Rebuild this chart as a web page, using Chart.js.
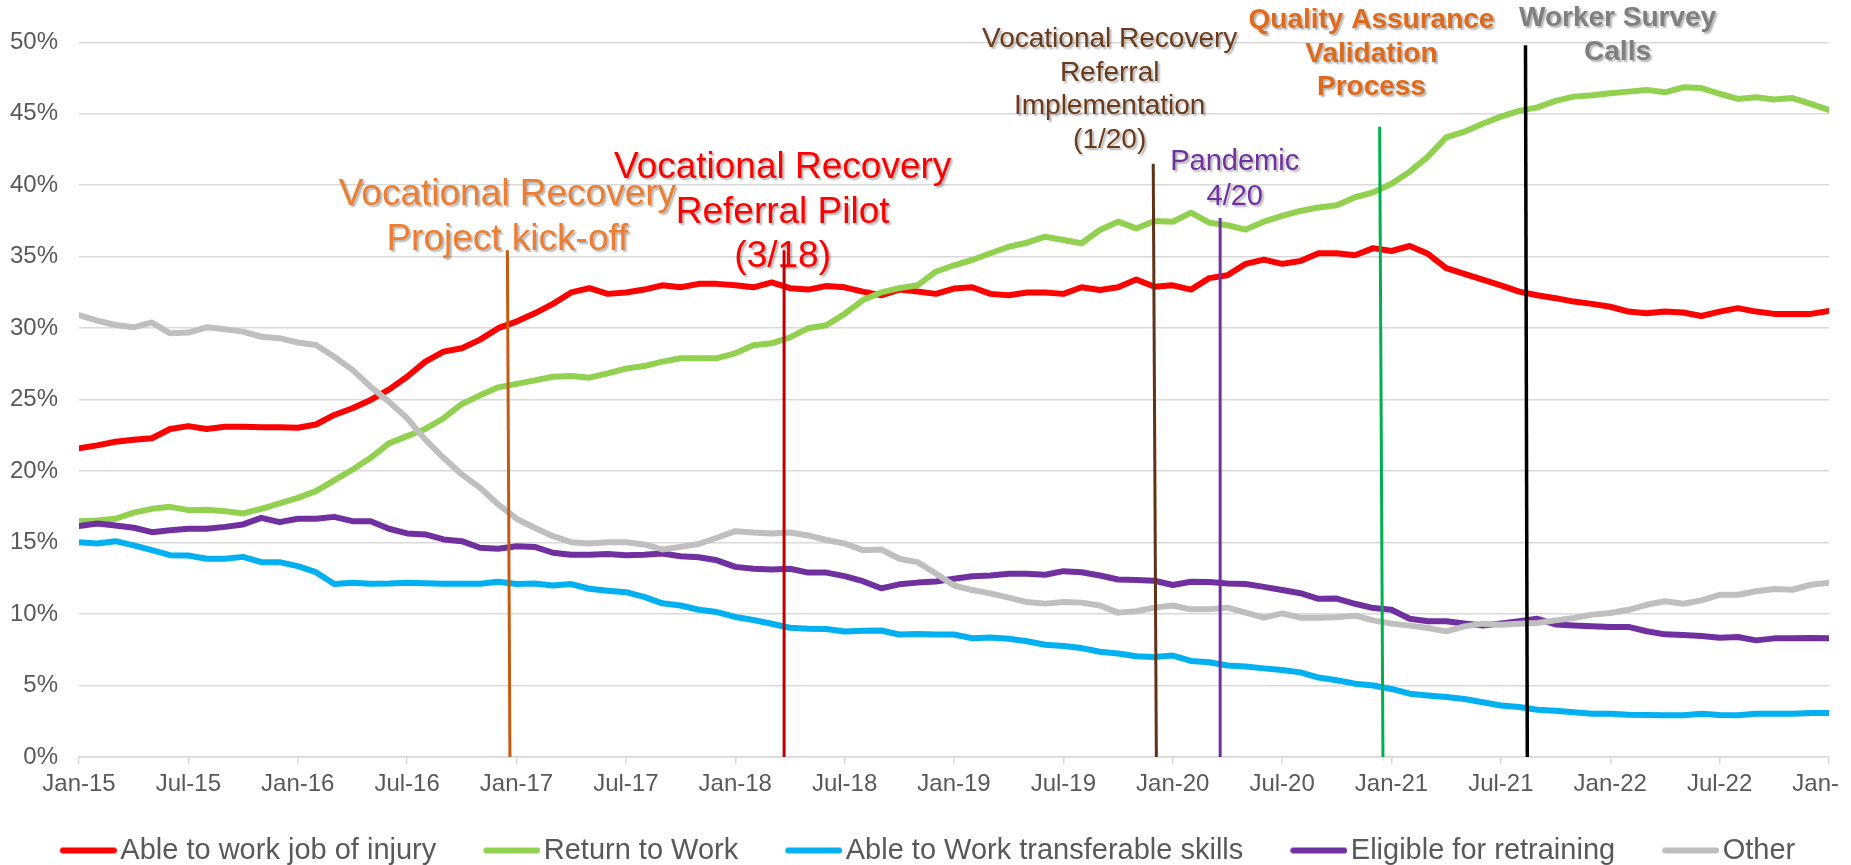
<!DOCTYPE html>
<html>
<head>
<meta charset="utf-8">
<script src="https://cdn.jsdelivr.net/npm/chart.js@4.4.1/dist/chart.umd.min.js"></script>
<style>
  html, body { margin: 0; padding: 0; background: #ffffff; }
  #wrap { width: 1838px; height: 865px; overflow: hidden; }
  canvas { display: block; }
</style>
</head>
<body>
<div id="wrap"><canvas id="chart" width="1851" height="875"></canvas></div>
<script>
// ---- Data (monthly, index 0 = Jan-15 ... 96 = Jan-23) ----
const tickLabels = ['Jan-15','Jul-15','Jan-16','Jul-16','Jan-17','Jul-17','Jan-18','Jul-18','Jan-19','Jul-19','Jan-20','Jul-20','Jan-21','Jul-21','Jan-22','Jul-22','Jan-23'];

const seriesNames = ['Able to work job of injury','Return to Work','Able to Work transferable skills','Eligible for retraining','Other'];

const ableJobOfInjury = [21.6,21.8,22.05,22.2,22.3,22.95,23.15,22.95,23.1,23.1,23.07,23.07,23.03,23.26,23.93,24.4,24.98,25.7,26.6,27.66,28.36,28.6,29.2,30.0,30.46,31.04,31.7,32.5,32.8,32.4,32.5,32.7,33.0,32.86,33.1,33.1,33.0,32.86,33.2,32.8,32.7,32.95,32.86,32.56,32.3,32.7,32.56,32.4,32.77,32.86,32.4,32.3,32.5,32.5,32.4,32.86,32.67,32.86,33.4,32.9,33.0,32.7,33.5,33.7,34.5,34.8,34.5,34.7,35.24,35.24,35.1,35.6,35.4,35.75,35.2,34.2,33.8,33.4,33.0,32.56,32.3,32.1,31.86,31.7,31.5,31.16,31.04,31.16,31.1,30.85,31.16,31.4,31.16,31.0,31.0,31.0,31.2];

const returnToWork = [16.5,16.55,16.67,17.1,17.36,17.5,17.27,17.3,17.2,17.04,17.36,17.74,18.13,18.6,19.35,20.1,20.93,21.94,22.45,22.95,23.7,24.7,25.3,25.86,26.1,26.35,26.6,26.65,26.54,26.84,27.17,27.35,27.66,27.9,27.9,27.9,28.24,28.8,28.94,29.36,30.0,30.2,31.0,31.97,32.5,32.8,33.0,33.95,34.4,34.77,35.24,35.7,35.98,36.4,36.17,35.94,36.87,37.45,36.98,37.5,37.45,38.08,37.38,37.2,36.9,37.45,37.85,38.2,38.45,38.6,39.16,39.5,40.1,40.95,42.0,43.35,43.75,44.3,44.8,45.2,45.45,45.9,46.2,46.3,46.43,46.55,46.67,46.5,46.85,46.8,46.4,46.04,46.15,46.0,46.1,45.7,45.27];

const transferableSkills = [15.03,14.94,15.1,14.8,14.47,14.12,14.1,13.87,13.87,14.0,13.63,13.63,13.35,12.93,12.1,12.19,12.12,12.14,12.19,12.16,12.12,12.12,12.12,12.26,12.1,12.14,12.0,12.1,11.77,11.63,11.53,11.2,10.75,10.6,10.3,10.14,9.8,9.58,9.32,9.04,8.97,8.95,8.78,8.83,8.85,8.57,8.6,8.57,8.57,8.31,8.36,8.27,8.1,7.85,7.76,7.62,7.36,7.24,7.05,7.0,7.1,6.72,6.63,6.4,6.33,6.2,6.08,5.92,5.56,5.37,5.13,5.0,4.76,4.43,4.31,4.2,4.06,3.83,3.6,3.5,3.31,3.24,3.13,3.03,3.03,2.96,2.94,2.92,2.92,3.03,2.94,2.92,3.03,3.03,3.03,3.08,3.08];

const eligibleRetraining = [16.15,16.34,16.2,16.04,15.73,15.87,15.97,15.97,16.1,16.27,16.73,16.43,16.67,16.67,16.8,16.5,16.5,15.97,15.64,15.57,15.22,15.1,14.64,14.57,14.75,14.7,14.29,14.15,14.15,14.2,14.12,14.15,14.24,14.05,13.98,13.76,13.3,13.17,13.12,13.17,12.9,12.9,12.65,12.3,11.8,12.08,12.2,12.28,12.47,12.65,12.7,12.82,12.82,12.75,13.0,12.93,12.7,12.42,12.38,12.33,12.03,12.26,12.24,12.14,12.1,11.9,11.68,11.46,11.07,11.08,10.72,10.42,10.3,9.67,9.5,9.5,9.34,9.2,9.34,9.5,9.67,9.27,9.2,9.15,9.1,9.1,8.8,8.58,8.53,8.46,8.35,8.4,8.16,8.3,8.3,8.32,8.3];

const other = [30.92,30.53,30.22,30.06,30.4,29.64,29.69,30.06,29.92,29.76,29.4,29.3,29.0,28.82,28.0,27.08,25.9,24.86,23.7,22.2,20.93,19.77,18.83,17.67,16.67,16.04,15.45,15.03,14.94,15.03,15.03,14.87,14.52,14.7,14.9,15.34,15.8,15.7,15.64,15.7,15.5,15.18,14.94,14.47,14.52,13.87,13.63,12.84,12.0,11.68,11.45,11.15,10.84,10.73,10.84,10.8,10.6,10.1,10.2,10.45,10.6,10.33,10.33,10.45,10.1,9.75,10.05,9.75,9.75,9.78,9.89,9.56,9.33,9.19,9.02,8.79,9.14,9.33,9.26,9.33,9.38,9.56,9.72,9.96,10.07,10.3,10.65,10.9,10.72,10.96,11.35,11.35,11.6,11.75,11.7,12.05,12.2];

// Event markers (month index at bottom/top of marker line, and its top value in %)
const eventNames = ['Project kick-off','Referral Pilot','Referral Implementation','Pandemic','QA Validation','Worker Survey'];
const eventMonthBottom = [23.64, 38.68, 59.1, 62.6, 71.53, 79.45];
const eventMonthTop    = [23.5, 38.68, 58.93, 62.6, 71.35, 79.35];
const eventTopValue    = [35.45, 35.45, 41.5, 37.7, 44.1, 49.8];
const eventText = [
  ['Vocational Recovery','Project kick-off'],
  ['Vocational Recovery','Referral Pilot','(3/18)'],
  ['Vocational Recovery','Referral','Implementation','(1/20)'],
  ['Pandemic','4/20'],
  ['Quality Assurance','Validation','Process'],
  ['Worker Survey','Calls']
];
// text anchor (month, value at first line centre)
const eventTextMonth = [23.5, 38.6, 56.54, 63.4, 70.9, 84.4];
const eventTextValue = [39.3, 41.19, 50.2, 41.6, 51.54, 51.68];

// ---- Styles ----
const FONT = '"Liberation Sans", Arial, Helvetica, sans-serif';
const seriesColors = ['#FF0000','#92D050','#00B0F0','#7030A0','#BFBFBF'];
const seriesValues = [ableJobOfInjury, returnToWork, transferableSkills, eligibleRetraining, other];
const eventLineColors = ['#C55A11','#C00000','#5E3317','#7030A0','#00B050','#000000'];
const eventLineWidths = [3,3,3,3,3,3.5];
const eventTextStyle = [
  {color:'#ED7D31', size:37, bold:false},
  {color:'#FF0000', size:37, bold:false},
  {color:'#6B3A1A', size:28, bold:false},
  {color:'#7030A0', size:29, bold:false},
  {color:'#E06A1C', size:28, bold:true},
  {color:'#7F7F7F', size:28, bold:true}
];

// legend marker images (line sits in the right part of the image)
const LEG_BOX = 72, LEG_IMG = 94;
function legendImage(color){
  const c = document.createElement('canvas');
  c.width = LEG_IMG; c.height = 8;
  const g = c.getContext('2d');
  g.strokeStyle = color; g.lineWidth = 6; g.lineCap = 'round';
  g.beginPath(); g.moveTo(LEG_IMG - 54, 4); g.lineTo(LEG_IMG - 3, 4); g.stroke();
  return c;
}
const legendImgs = seriesColors.map(legendImage);

const datasets = [];
seriesValues.forEach((vals, s) => {
  datasets.push({
    label: seriesNames[s],
    data: vals.map((v, i) => ({x: i, y: v})),
    borderColor: seriesColors[s],
    backgroundColor: seriesColors[s],
    borderWidth: 6,
    pointRadius: 0,
    pointHoverRadius: 0,
    tension: 0,
    borderJoinStyle: 'round',
    borderCapStyle: 'round',
    fill: false,
    order: 5 - s
  });
});
eventNames.forEach((n, k) => {
  datasets.push({
    label: n,
    data: [{x: eventMonthBottom[k], y: 0}, {x: eventMonthTop[k], y: eventTopValue[k]}],
    borderColor: eventLineColors[k],
    borderWidth: eventLineWidths[k],
    pointRadius: 0,
    tension: 0,
    fill: false,
    order: 0
  });
});

const eventTextPlugin = {
  id: 'eventText',
  beforeDatasetsDraw(chart){
    const {ctx} = chart;
    const xs = chart.scales.x, ys = chart.scales.y;
    ctx.save();
    eventText.forEach((lines, k) => {
      const st = eventTextStyle[k];
      ctx.font = (st.bold ? 'bold ' : '') + st.size + 'px ' + FONT;
      ctx.fillStyle = st.color;
      ctx.textAlign = 'center';
      ctx.textBaseline = 'middle';
      ctx.shadowColor = 'rgba(0,0,0,0.30)';
      ctx.shadowOffsetX = 2; ctx.shadowOffsetY = 2; ctx.shadowBlur = 2;
      const px = xs.getPixelForValue(eventTextMonth[k]);
      const py = ys.getPixelForValue(eventTextValue[k]);
      lines.forEach((t, i) => ctx.fillText(t, px, py + i * st.size * 1.2));
    });
    ctx.restore();
  }
};

new Chart(document.getElementById('chart'), {
  type: 'line',
  data: { datasets },
  options: {
    responsive: false,
    animation: false,
    devicePixelRatio: 1,
    layout: { padding: { left: 0, right: 22, top: 42.3, bottom: 0 } },
    plugins: {
      tooltip: { enabled: false },
      legend: {
        position: 'bottom',
        labels: {
          font: { family: FONT, size: 29 },
          color: '#595959',
          usePointStyle: true,
          pointStyleWidth: LEG_BOX,
          padding: 21,
          filter: (item) => item.datasetIndex < 5,
          sort: (a, b) => a.datasetIndex - b.datasetIndex,
          generateLabels: (chart) => {
            const items = Chart.defaults.plugins.legend.labels.generateLabels(chart);
            items.forEach(it => { if (it.datasetIndex < 5) it.pointStyle = legendImgs[it.datasetIndex]; });
            return items;
          }
        }
      }
    },
    scales: {
      x: {
        type: 'linear',
        min: 0, max: 96,
        afterBuildTicks: (scale) => { scale.ticks = tickLabels.map((t, i) => ({value: i * 6})); },
        ticks: {
          autoSkip: false,
          maxRotation: 0,
          padding: 6,
          color: '#595959',
          font: { family: FONT, size: 24 },
          callback: (v) => tickLabels[Math.round(v / 6)]
        },
        grid: { display: true, drawOnChartArea: false, drawTicks: true, tickLength: 7, color: '#D9D9D9', lineWidth: 1.5 },
        border: { display: true, color: '#D9D9D9', width: 1.5 },
        afterFit: (scale) => { scale.height = 58; scale.paddingRight = 0; scale.paddingLeft = 0; }
      },
      y: {
        min: 0, max: 50,
        ticks: {
          stepSize: 5,
          padding: 21,
          color: '#595959',
          font: { family: FONT, size: 24 },
          callback: (v) => v + '%'
        },
        grid: { color: '#D9D9D9', lineWidth: 1.5, drawTicks: false },
        border: { display: false },
        afterFit: (scale) => { scale.width = 79; }
      }
    }
  },
  plugins: [eventTextPlugin]
});
</script>
</body>
</html>
